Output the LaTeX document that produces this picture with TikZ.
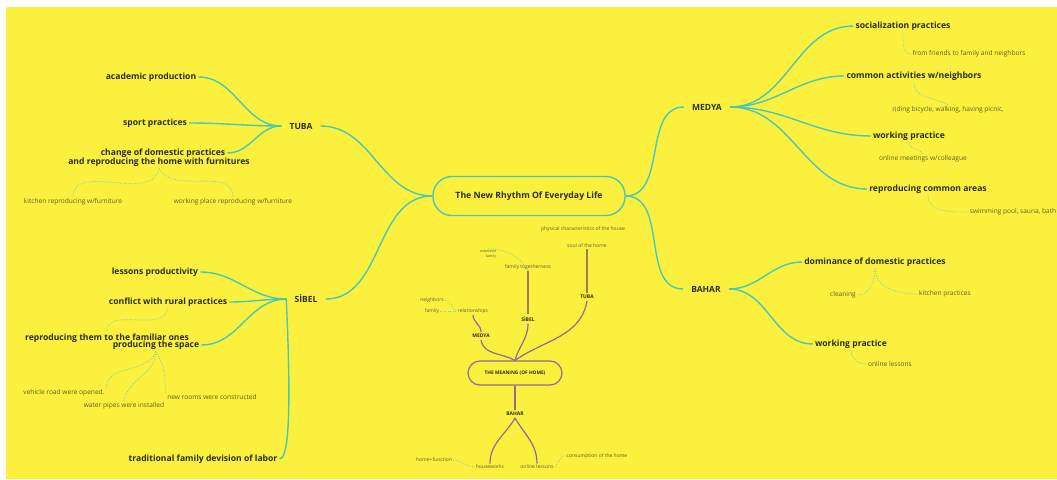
\documentclass[tikz,border=0pt]{standalone}
\usepackage{fontspec}
\setmainfont{Open Sans}
\definecolor{bgy}{RGB}{252,240,62}
\definecolor{tealc}{RGB}{72,200,182}
\definecolor{dotc}{RGB}{130,210,160}
\definecolor{purc}{RGB}{150,105,150}
\definecolor{brc}{RGB}{160,125,90}
\definecolor{txt}{RGB}{45,45,32}
\definecolor{stxt}{RGB}{95,95,45}
\tikzset{
 big/.style={font=\bfseries\fontsize{8.6}{10}\selectfont, text=txt, inner sep=2pt},
 hub/.style={font=\bfseries\fontsize{8.5}{10}\selectfont, text=txt, inner xsep=8pt, inner ysep=2pt},
 small/.style={font=\fontsize{6.6}{7.8}\selectfont, text=stxt, inner sep=1.5pt},
 tiny/.style={font=\fontsize{5}{6}\selectfont, text=stxt, inner sep=1.2pt},
 mini/.style={font=\fontsize{3.6}{4.2}\selectfont, text=stxt, inner sep=0.5pt},
 tinyb/.style={font=\bfseries\fontsize{5}{6}\selectfont, text=txt, inner sep=2pt},
 tline/.style={draw=tealc, line width=1.4pt},
 dline/.style={draw=dotc, line width=0.9pt, dash pattern=on 0.9pt off 1.6pt},
 pline/.style={draw=purc, line width=1.2pt},
 bline/.style={draw=brc, line width=1.2pt},
}
\begin{document}
\begin{tikzpicture}[x=1pt,y=1pt]
\path[use as bounding box] (0,0) rectangle (1057,-479);
\fill[white] (0,0) rectangle (1057,-479);
\fill[bgy] (6,-7) rectangle (1057,-479);

% root
\node[draw=tealc, line width=1.4pt, rounded corners=19pt, minimum width=192pt, minimum height=39pt,
  font=\bfseries\fontsize{8.7}{10}\selectfont, text=txt] (root) at (529,-196) {The New Rhythm Of Everyday Life};

% hubs
\node[hub] (tuba) at (301,-126) {TUBA};
\node[hub] (sibel) at (306,-299) {SİBEL};
\node[hub] (medya) at (707,-107) {MEDYA};
\node[hub] (bahar) at (706,-289) {BAHAR};

% TUBA branch
\node[big] (acad) at (151,-77) {academic production};
\node[big] (sport) at (155,-123) {sport practices};
\node[big] (change1) at (163,-153) {change of domestic practices};
\node[big] (change2) at (159,-162) {and reproducing the home with furnitures};
\node[small] (kitchen) at (73,-202) {kitchen reproducing w/furniture};
\node[small] (workpl) at (233,-202) {working place reproducing w/furniture};

% SIBEL branch
\node[big] (lessons) at (155,-272) {lessons productivity};
\node[big] (conflict) at (168,-302) {conflict with rural practices};
\node[big] (familiar) at (107,-338) {reproducing them to the familiar ones};
\node[big] (producing) at (156,-345) {producing the space};
\node[big] (trad) at (203,-459) {traditional family devision of labor};
\node[small] (vehicle) at (64,-393) {vehicle road were opened.};
\node[small] (water) at (124,-406) {water pipes were installed};
\node[small] (newrooms) at (212,-397) {new rooms were constructed};

% MEDYA branch
\node[big] (social) at (903,-26) {socialization practices};
\node[small] (friends) at (969,-54) {from friends to family and neighbors};
\node[big] (common) at (914,-76) {common activities w/neighbors};
\node[small] (riding) at (948,-110) {riding bicycle, walking, having picnic,};
\node[big] (working) at (909,-136) {working practice};
\node[small] (meetings) at (923,-159) {online meetings w/colleague};
\node[big] (repro) at (928,-189) {reproducing common areas};
\node[small] (swim) at (1013,-212) {swimming pool, sauna, bath};

% BAHAR branch
\node[big] (dominance) at (875,-262) {dominance of domestic practices};
\node[small] (cleaning) at (843,-295) {cleaning};
\node[small] (kitchenp) at (945,-294) {kitchen practices};
\node[big] (working2) at (851,-344) {working practice};
\node[small] (onlinel) at (890,-364) {online lessons};

% teal connectors
\draw[tline] (root.west) to[out=180,in=0] (tuba.east);
\draw[tline] (root.west) to[out=180,in=0] (sibel.east);
\draw[tline] (root.east) to[out=0,in=180] (medya.west);
\draw[tline] (root.east) to[out=0,in=180] (bahar.west);

\draw[tline] (tuba.west) to[out=180,in=0] (acad.east);
\draw[tline] (tuba.west) to[out=180,in=0] (sport.east);
\draw[tline] (tuba.west) to[out=180,in=0] (change1.east);

\draw[tline] (sibel.west) to[out=180,in=0] (lessons.east);
\draw[tline] (sibel.west) to[out=180,in=0] (conflict.east);
\draw[tline] (sibel.west) to[out=180,in=0] (producing.east);
\draw[tline] (sibel.west) to[out=-90,in=0,looseness=0.25] (trad.east);

\draw[tline] (medya.east) to[out=0,in=180] (social.west);
\draw[tline] (medya.east) to[out=0,in=180] (common.west);
\draw[tline] (medya.east) to[out=0,in=180] (working.west);
\draw[tline] (medya.east) to[out=0,in=180] (repro.west);

\draw[tline] (bahar.east) to[out=0,in=180] (dominance.west);
\draw[tline] (bahar.east) to[out=0,in=180] (working2.west);

% dotted connectors
\draw[dline] (change2.south) to[out=-100,in=90] (kitchen.north);
\draw[dline] (change2.south) to[out=-60,in=90] (workpl.north);
\draw[dline] (conflict.south) to[out=-100,in=90] (familiar.north);
\draw[dline] (producing.south) to[out=-110,in=90] (vehicle.north east);
\draw[dline] (producing.south) to[out=-90,in=80] (water.north);
\draw[dline] (producing.south) to[out=-60,in=90] (newrooms.north west);
\draw[dline] (social.south) to[out=-90,in=180] (friends.west);
\draw[dline] (common.south) to[out=-90,in=150] (riding.north);
\draw[dline] (working.south) to[out=-90,in=120] (meetings.north);
\draw[dline] (repro.south) to[out=-90,in=180] (swim.west);
\draw[dline] (dominance.south) to[out=-90,in=0] (cleaning.east);
\draw[dline] (dominance.south) to[out=-90,in=180] (kitchenp.west);
\draw[dline] (working2.south) to[out=-90,in=180] (onlinel.west);

% centre diagram
\node[tiny] (physical) at (583,-229) {physical characteristics of the house};
\node[tiny] (soul) at (587,-246) {soul of the home};
\node[mini] (ext1) at (488,-251) {extended};
\node[mini] (ext2) at (491,-257) {family};
\node[tiny] (famtog) at (528,-267) {family togetherness};
\node[tinyb] (tuba2) at (587,-297) {TUBA};
\node[tinyb] (sibel2) at (528,-319) {SİBEL};
\node[tiny] (neighbors) at (432,-300) {neighbors};
\node[tiny] (family) at (432,-311) {family};
\node[tiny] (relationships) at (473,-311) {relationships};
\node[tinyb] (medya2) at (481,-336) {MEDYA};
\node[draw=purc, line width=1.2pt, rounded corners=12pt, minimum width=94pt, minimum height=24pt,
  font=\bfseries\fontsize{4.8}{6}\selectfont, text=txt] (meaning) at (515,-373) {THE MEANING (OF HOME)};
\node[tinyb] (bahar2) at (515,-414) {BAHAR};
\node[tiny] (homef) at (434,-460) {home+function};
\node[tiny] (housew) at (490,-467) {houseworks};
\node[tiny] (onlines) at (537,-467) {online lessons};
\node[tiny] (consumption) at (597,-456) {consumption of the home};

\draw[bline] (soul.south) -- (tuba2.north);
\draw[bline] (famtog.south) -- (sibel2.north);
\draw[pline] (relationships.south) to[out=-90,in=90] (medya2.north);
\draw[pline] (medya2.south) to[out=-80,in=150] (meaning.north);
\draw[pline] (sibel2.south) to[out=-90,in=75] (meaning.north);
\draw[pline] (tuba2.south) to[out=-100,in=35] (meaning.north);
\draw[pline] (meaning.south) -- (bahar2.north);
\draw[pline] (bahar2.south) to[out=-120,in=90] (housew.north);
\draw[pline] (bahar2.south) to[out=-60,in=90] (onlines.north);

\draw[dline] (ext1.north) to[out=0,in=120] (famtog.south);
\draw[dline] (neighbors.east) to[out=0,in=150] (relationships.west);
\draw[dline] (family.east) to[out=0,in=180] (relationships.west);
\draw[dline] (homef.east) to[out=0,in=180] (housew.west);
\draw[dline] (onlines.east) to[out=45,in=180] (consumption.west);
\end{tikzpicture}
\end{document}
